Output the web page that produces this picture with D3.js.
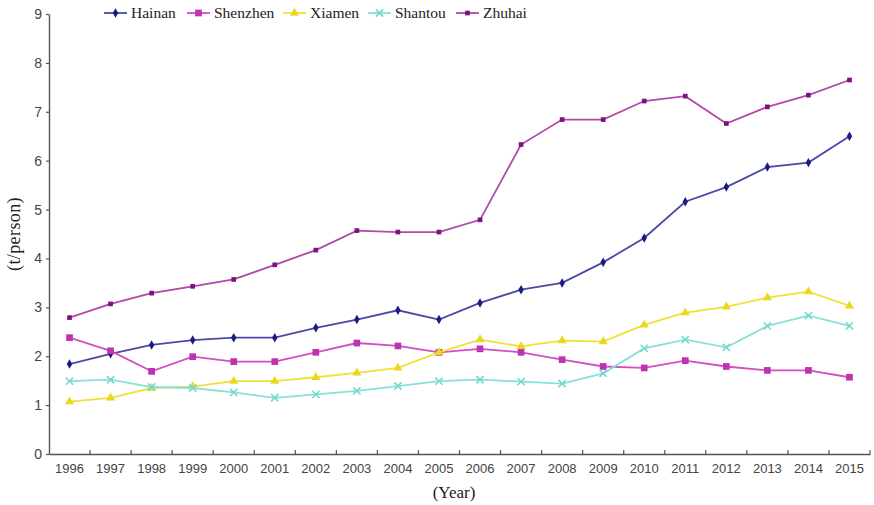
<!DOCTYPE html>
<html>
<head>
<meta charset="utf-8">
<script src="https://cdn.jsdelivr.net/npm/d3@7"></script>
<style>
  body { margin: 0; background: #fff; }
  svg { display: block; }
</style>
</head>
<body>
<div id="chart"></div>
<script>
// years on the x axis
var years = ["1996","1997","1998","1999","2000","2001","2002","2003","2004","2005",
             "2006","2007","2008","2009","2010","2011","2012","2013","2014","2015"];
var yTicks = [0,1,2,3,4,5,6,7,8,9];

// values (t/person)
var hainan   = [1.84,2.05,2.23,2.33,2.38,2.38,2.58,2.75,2.94,2.75,3.09,3.36,3.50,3.92,4.42,5.16,5.46,5.87,5.96,6.50];
var shenzhen = [2.38,2.11,1.69,1.99,1.89,1.89,2.08,2.27,2.21,2.08,2.15,2.08,1.93,1.79,1.76,1.91,1.79,1.71,1.71,1.57];
var xiamen   = [1.07,1.15,1.35,1.38,1.49,1.49,1.57,1.66,1.76,2.08,2.34,2.20,2.32,2.30,2.64,2.89,3.01,3.20,3.32,3.03];
var shantou  = [1.49,1.52,1.37,1.35,1.26,1.15,1.22,1.29,1.39,1.49,1.52,1.48,1.44,1.65,2.16,2.34,2.18,2.62,2.83,2.62];
var zhuhai   = [2.79,3.07,3.29,3.43,3.57,3.87,4.17,4.57,4.54,4.54,4.79,6.33,6.84,6.84,7.22,7.32,6.76,7.10,7.34,7.65];

var series = [
  {name: "Hainan",   values: hainan,   line: "#4a4aa6", mark: "#1c1c80", symbol: d3.symbolDiamond,  size: 26},
  {name: "Shenzhen", values: shenzhen, line: "#d050c0", mark: "#c033b0", symbol: d3.symbolSquare,   size: 45},
  {name: "Xiamen",   values: xiamen,   line: "#f0e038", mark: "#e8d820", symbol: d3.symbolTriangle, size: 36},
  {name: "Shantou",  values: shantou,  line: "#88e0d8", mark: "#70d8d0", symbol: d3.symbolTimes,    size: 36, stroke: true},
  {name: "Zhuhai",   values: zhuhai,   line: "#b348a8", mark: "#7a1280", symbol: d3.symbolSquare,   size: 22}
];

var width = 874, height = 505;
var margin = {left: 49, right: 4, top: 14, bottom: 51};

var svg = d3.select("#chart").append("svg")
    .attr("width", width)
    .attr("height", height);

var x = d3.scaleBand()
    .domain(years)
    .range([margin.left, width - margin.right]);

var y = d3.scaleLinear()
    .domain([0, 9])
    .range([height - margin.bottom, margin.top]);

var axisColor = "#555";

// y axis
var yAxis = svg.append("g")
    .attr("transform", "translate(" + margin.left + ",0)")
    .call(d3.axisLeft(y).tickValues(yTicks).tickSize(3).tickPadding(4).tickSizeOuter(0));
yAxis.select(".domain").attr("stroke", axisColor).attr("stroke-width", 1.4);
yAxis.selectAll(".tick line").attr("stroke", axisColor).attr("stroke-width", 1.2);
yAxis.selectAll("text")
    .attr("font-family", "Liberation Sans, Arial, sans-serif")
    .attr("font-size", 14)
    .attr("fill", "#444");

// x axis, ticks between years pointing up
var xAxis = svg.append("g")
    .attr("transform", "translate(0," + y(0) + ")")
    .call(d3.axisBottom(x).tickSize(0).tickPadding(10));
xAxis.select(".domain").attr("stroke", axisColor).attr("stroke-width", 1.4);
xAxis.selectAll("text")
    .attr("font-family", "Liberation Sans, Arial, sans-serif")
    .attr("font-size", 13)
    .attr("fill", "#444");
xAxis.selectAll(".sep")
    .data(years)
    .enter().append("line")
    .attr("class", "sep")
    .attr("x1", function(d){ return x(d) + x.bandwidth(); })
    .attr("x2", function(d){ return x(d) + x.bandwidth(); })
    .attr("y1", 0)
    .attr("y2", -4)
    .attr("stroke", axisColor)
    .attr("stroke-width", 1.2);

// axis titles
svg.append("text")
    .attr("transform", "translate(20," + y(4.5) + ") rotate(-90)")
    .attr("text-anchor", "middle")
    .attr("font-family", "Liberation Serif, Times New Roman, serif")
    .attr("font-size", 18)
    .attr("letter-spacing", 0.4)
    .attr("fill", "#222")
    .text("(t/person)");

svg.append("text")
    .attr("x", 454)
    .attr("y", 498)
    .attr("text-anchor", "middle")
    .attr("font-family", "Liberation Serif, Times New Roman, serif")
    .attr("font-size", 17)
    .attr("fill", "#222")
    .text("(Year)");

// lines
var line = d3.line()
    .x(function(d, i){ return x(years[i]) + x.bandwidth() / 2; })
    .y(function(d){ return y(d); });

function drawMarker(sel, s) {
  sel.attr("d", d3.symbol().type(s.symbol).size(s.size));
  if (s.stroke) {
    sel.attr("fill", "none").attr("stroke", s.mark).attr("stroke-width", 1.6);
  } else {
    sel.attr("fill", s.mark);
  }
}

series.forEach(function(s){
  svg.append("path")
      .datum(s.values)
      .attr("fill", "none")
      .attr("stroke", s.line)
      .attr("stroke-width", 1.8)
      .attr("d", line);

  svg.append("g").selectAll("path")
      .data(s.values)
      .enter().append("path")
      .attr("transform", function(d, i){
        return "translate(" + (x(years[i]) + x.bandwidth() / 2) + "," + y(d) + ")";
      })
      .call(drawMarker, s);
});

// legend
var legendX = [104, 187, 283, 368, 456];
var legend = svg.append("g");
series.forEach(function(s, i){
  var g = legend.append("g").attr("transform", "translate(" + legendX[i] + ",13)");
  g.append("line")
      .attr("x1", 0).attr("x2", 23)
      .attr("stroke", s.line)
      .attr("stroke-width", 1.8);
  g.append("path")
      .attr("transform", "translate(11.5,0)")
      .call(drawMarker, s);
  g.append("text")
      .attr("x", 27)
      .attr("y", 5)
      .attr("font-family", "Liberation Serif, Times New Roman, serif")
      .attr("font-size", 15.5)
      .attr("fill", "#222")
      .text(s.name);
});
</script>
</body>
</html>
